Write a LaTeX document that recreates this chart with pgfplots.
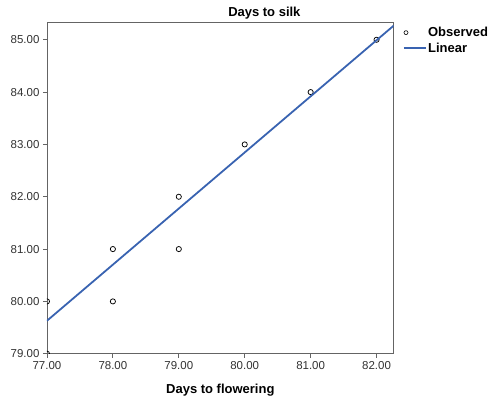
\documentclass[border=0pt]{standalone}
\usepackage{fontspec}
\setmainfont{Liberation Sans}
\usepackage{pgfplots}
\pgfplotsset{compat=1.18}
\definecolor{lineblue}{RGB}{57,99,177}
\definecolor{axgray}{RGB}{100,100,100}
\definecolor{txtgray}{RGB}{50,50,50}
\begin{document}
\begin{tikzpicture}[x=1pt,y=1pt]
\begin{axis}[
  at={(0,0)}, anchor=south west,
  scale only axis, width=347pt, height=332pt,
  xmin=77, xmax=82.26, ymin=79, ymax=85.34,
  xtick={77,78,79,80,81,82}, ytick={79,80,81,82,83,84,85},
  tick align=outside, tick pos=left,
  major tick length=4pt,
  axis line style={axgray, line width=0.9pt},
  every tick/.style={axgray, line width=0.9pt},
  ticklabel style={font=\fontsize{11.5}{13}\selectfont, text=txtgray},
  /pgf/number format/assume math mode=true,
  /pgf/number format/fixed, /pgf/number format/fixed zerofill, /pgf/number format/precision=2,
  title={\textbf{Days to silk}}, title style={font=\fontsize{13}{15}\selectfont, at={(0.627,1)}, anchor=center, yshift=3pt, inner sep=0pt},
  xlabel={\textbf{Days to flowering}}, xlabel style={font=\fontsize{13}{15}\selectfont, at={(0.5,0)}, anchor=center, yshift=-36pt, inner sep=0pt},
  legend style={at={(1,1)}, xshift=9pt, yshift=-4pt, anchor=north west, draw=none, inner sep=0pt, font=\fontsize{13}{15}\selectfont\bfseries, row sep=3pt, nodes={inner ysep=1pt, inner xsep=1pt}},
  legend cell align=left,
  clip=true, clip marker paths=true,
]
\addplot[only marks, mark=o, mark size=2.6pt, black, mark options={line width=0.75pt},
  legend image code/.code={\draw[black, line width=0.6pt] (2pt,0pt) circle (2pt); \path (0,0) (22pt,0);}] coordinates {
(77,80) (77,79) (78,81) (78,80) (79,82) (79,81) (80,83) (81,84) (82,85)};
\addlegendentry{Observed}
\addplot[lineblue, line width=1.8pt,
  legend image code/.code={\draw[lineblue, line width=2.2pt] (0pt,0.5pt) -- (22pt,0.5pt);}] coordinates {(77,79.63) (82.26,85.27)};
\addlegendentry{Linear}
\end{axis}
\path (-47,-48) rectangle (442,354);
\end{tikzpicture}
\end{document}
